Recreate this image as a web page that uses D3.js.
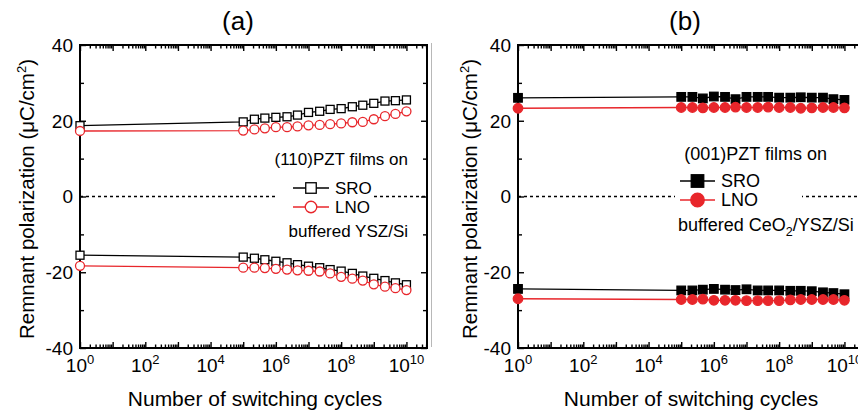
<!DOCTYPE html>
<html>
<head>
<meta charset="utf-8">
<script src="https://cdn.jsdelivr.net/npm/d3@7"></script>
<style>
  body { margin: 0; background: #fff; }
  svg { display: block; font-family: 'Liberation Sans', Arial, sans-serif; }
</style>
</head>
<body>
<svg id="chart" width="858" height="414"></svg>
<script>
// switching cycles (x) shared by every series
const cycles = [1, 1e5, 2.2e5, 4.6e5, 1e6, 2.2e6, 4.6e6, 1e7, 2.2e7, 4.6e7, 1e8, 2.2e8, 4.6e8, 1e9, 2.2e9, 4.6e9, 1e10]

// (a) (110)PZT films
const aSroPos = [18.7, 19.7, 20.4, 20.7, 20.9, 21.05, 21.5, 22.2, 22.5, 23.0, 23.2, 23.7, 24.1, 24.6, 25.2, 25.3, 25.5]
const aLnoPos = [17.3, 17.4, 17.7, 18.0, 18.3, 18.3, 18.5, 18.8, 18.9, 19.1, 19.3, 19.6, 19.7, 20.4, 21.2, 21.8, 22.5]
const aSroNeg = [-15.5, -16.0, -16.3, -16.7, -17.1, -17.5, -18.0, -18.4, -18.8, -19.3, -19.7, -20.3, -21.0, -21.6, -22.2, -22.8, -23.3]
const aLnoNeg = [-18.3, -18.8, -18.8, -18.9, -19.1, -19.3, -19.5, -19.6, -19.8, -20.3, -21.2, -21.7, -22.2, -23.2, -23.8, -24.2, -24.7]

// (b) (001)PZT films
const bSroPos = [26.05, 26.3, 26.3, 25.9, 26.4, 26.3, 25.7, 26.3, 26.3, 26.3, 26.1, 26.1, 26.2, 26.1, 26.1, 25.7, 25.5]
const bLnoPos = [23.3, 23.5, 23.5, 23.4, 23.5, 23.5, 23.6, 23.5, 23.5, 23.6, 23.5, 23.5, 23.3, 23.4, 23.5, 23.5, 23.4]
const bSroNeg = [-24.4, -24.8, -24.8, -24.6, -24.4, -24.6, -24.7, -24.5, -24.8, -24.8, -24.8, -24.9, -24.9, -25.0, -25.3, -25.5, -25.8]
const bLnoNeg = [-27.0, -27.2, -27.2, -27.1, -27.4, -27.4, -27.4, -27.5, -27.5, -27.5, -27.5, -27.3, -27.2, -27.2, -27.2, -27.2, -27.4]

const yMajor = [-40, -20, 0, 20, 40]
const yMinor = [-30, -10, 10, 30]
const xLabelExp = [0, 2, 4, 6, 8, 10]
const xDecades = [0, 1, 2, 3, 4, 5, 6, 7, 8, 9, 10]

const RED = '#e8262b'
const svg = d3.select('#chart')

// faint divider seen at the left of panel (b)
svg.append('line')
  .attr('x1', 431.5).attr('x2', 431.5).attr('y1', 43).attr('y2', 347)
  .attr('stroke', '#b8b8b8').attr('stroke-width', 1)

function drawPanel(p) {
  const g = svg.append('g')
  const x = d3.scaleLog().domain([1, Math.pow(10, 10.63)]).range([p.left, p.left + 347])
  const y = d3.scaleLinear().domain([-40, 40]).range([348, 45])

  const majorX = xDecades.map(d => Math.pow(10, d))
  const minorX = []
  xDecades.forEach(d => {
    for (let m = 2; m <= 9; m++) {
      const v = m * Math.pow(10, d)
      if (v <= x.domain()[1]) minorX.push(v)
    }
  })

  const tickAxis = (axis, values, size, transform) => {
    const a = g.append('g')
      .attr('transform', transform)
      .call(axis.tickValues(values).tickSize(size).tickSizeOuter(0).tickFormat(''))
    a.select('.domain').remove()
    a.selectAll('line').attr('stroke', '#000').attr('stroke-width', 1.4)
  }
  tickAxis(d3.axisBottom(x), majorX, -6, `translate(0,${y(-40)})`)
  tickAxis(d3.axisBottom(x), minorX, -3.5, `translate(0,${y(-40)})`)
  tickAxis(d3.axisTop(x), majorX, -6, `translate(0,${y(40)})`)
  tickAxis(d3.axisTop(x), minorX, -3.5, `translate(0,${y(40)})`)
  tickAxis(d3.axisLeft(y), yMajor, -6, `translate(${p.left},0)`)
  tickAxis(d3.axisLeft(y), yMinor, -4, `translate(${p.left},0)`)
  tickAxis(d3.axisRight(y), yMajor, -6, `translate(${x.range()[1]},0)`)
  tickAxis(d3.axisRight(y), yMinor, -4, `translate(${x.range()[1]},0)`)

  // zero reference line
  g.append('line')
    .attr('x1', p.left).attr('x2', x.range()[1])
    .attr('y1', y(0)).attr('y2', y(0))
    .attr('stroke', '#000').attr('stroke-width', 1.5)
    .attr('stroke-dasharray', '3,3')

  // legend background covering the dotted line
  g.append('rect')
    .attr('x', p.legGap[0]).attr('width', p.legGap[1] - p.legGap[0])
    .attr('y', y(0) - 3).attr('height', 6)
    .attr('fill', '#fff')

  // frame
  g.append('rect')
    .attr('x', p.left).attr('y', y(40))
    .attr('width', x.range()[1] - p.left).attr('height', y(-40) - y(40))
    .attr('fill', 'none').attr('stroke', '#000').attr('stroke-width', 2)

  // tick labels
  g.selectAll('.ylab').data(yMajor).join('text')
    .attr('x', p.left - 7).attr('y', d => y(d)).attr('dy', '0.36em')
    .attr('text-anchor', 'end').attr('font-size', 19)
    .text(d => String(d))

  g.selectAll('.xlab').data(xLabelExp).join('text')
    .attr('x', d => x(Math.pow(10, d))).attr('y', 372)
    .attr('text-anchor', 'middle').attr('font-size', 19)
    .each(function (d) {
      const t = d3.select(this)
      t.append('tspan').text('10')
      t.append('tspan').attr('dy', -8).attr('font-size', 13).text(d)
    })

  // axis titles
  g.append('text')
    .attr('x', p.xTitleX).attr('y', 406)
    .attr('text-anchor', 'middle').attr('font-size', 21)
    .text('Number of switching cycles')

  const yl = g.append('text')
    .attr('transform', `translate(${p.yTitleX},199) rotate(-90)`)
    .attr('text-anchor', 'middle').attr('font-size', 20.5)
  yl.append('tspan').text('Remnant polarization (\u03bcC/cm')
  yl.append('tspan').attr('dy', -8).attr('font-size', 13).text('2')
  yl.append('tspan').attr('dy', 8).text(')')

  g.append('text')
    .attr('x', p.titleX).attr('y', 30)
    .attr('text-anchor', 'middle').attr('font-size', 26)
    .text(p.title)

  // data
  const line = d3.line().x(d => x(d[0])).y(d => y(d[1]))
  p.series.forEach(s => {
    const pts = cycles.map((c, i) => [c, s.values[i]])
    g.append('path')
      .attr('d', line(pts))
      .attr('fill', 'none').attr('stroke', s.color).attr('stroke-width', 1.3)
    drawMarkers(g, pts.map(d => [x(d[0]), y(d[1])]), s.shape, s.color, p.filled, p.size)
  })

  // legend
  const L = p.legend
  g.append('text')
    .attr('x', L.headX).attr('y', L.headY)
    .attr('text-anchor', L.headAnchor).attr('font-size', L.fs)
    .text(L.head)
  L.items.forEach(it => {
    g.append('line')
      .attr('x1', L.lineX[0]).attr('x2', L.lineX[1])
      .attr('y1', it.y).attr('y2', it.y)
      .attr('stroke', it.color).attr('stroke-width', 1.5)
    drawMarkers(g, [[(L.lineX[0] + L.lineX[1]) / 2, it.y]], it.shape, it.color, p.filled, L.markSize)
    g.append('text')
      .attr('x', L.textX).attr('y', it.y + 6)
      .attr('font-size', L.fs)
      .text(it.label)
  })
  const foot = g.append('text')
    .attr('x', L.footX).attr('y', L.footY)
    .attr('text-anchor', L.footAnchor).attr('font-size', L.fs)
  L.foot.forEach(part => {
    const t = foot.append('tspan').text(part.t)
    if (part.sub) t.attr('dy', 5).attr('font-size', L.fs * 0.7)
    if (part.after) t.attr('dy', -5)
  })
}

function drawMarkers(g, pts, shape, color, filled, size) {
  if (shape === 'square') {
    g.selectAll(null).data(pts).join('rect')
      .attr('x', d => d[0] - size / 2).attr('y', d => d[1] - size / 2)
      .attr('width', size).attr('height', size)
      .attr('fill', filled ? color : '#fff')
      .attr('stroke', color).attr('stroke-width', 1.3)
  } else {
    g.selectAll(null).data(pts).join('circle')
      .attr('cx', d => d[0]).attr('cy', d => d[1])
      .attr('r', size / 2 + 0.5)
      .attr('fill', filled ? color : '#fff')
      .attr('stroke', color).attr('stroke-width', 1.3)
  }
}

drawPanel({
  left: 80, title: '(a)', titleX: 238, xTitleX: 255, yTitleX: 33.5,
  filled: false, size: 8,
  legGap: [278, 373],
  series: [
    { values: aSroPos, color: '#000', shape: 'square' },
    { values: aSroNeg, color: '#000', shape: 'square' },
    { values: aLnoPos, color: RED, shape: 'circle' },
    { values: aLnoNeg, color: RED, shape: 'circle' }
  ],
  legend: {
    fs: 17, head: '(110)PZT films on', headX: 408, headY: 165, headAnchor: 'end',
    lineX: [293, 329], textX: 335, markSize: 10.5,
    items: [
      { label: 'SRO', y: 188, color: '#000', shape: 'square' },
      { label: 'LNO', y: 207, color: RED, shape: 'circle' }
    ],
    foot: [{ t: 'buffered YSZ/Si' }], footX: 408, footY: 237, footAnchor: 'end'
  }
})

drawPanel({
  left: 518, title: '(b)', titleX: 685, xTitleX: 691, yTitleX: 477,
  filled: true, size: 8.5,
  legGap: [675, 802],
  series: [
    { values: bSroPos, color: '#000', shape: 'square' },
    { values: bSroNeg, color: '#000', shape: 'square' },
    { values: bLnoPos, color: RED, shape: 'circle' },
    { values: bLnoNeg, color: RED, shape: 'circle' }
  ],
  legend: {
    fs: 18, head: '(001)PZT films on', headX: 827, headY: 160, headAnchor: 'end',
    lineX: [680, 715], textX: 721, markSize: 12.5,
    items: [
      { label: 'SRO', y: 181, color: '#000', shape: 'square' },
      { label: 'LNO', y: 200, color: RED, shape: 'circle' }
    ],
    foot: [{ t: 'buffered CeO' }, { t: '2', sub: true }, { t: '/YSZ/Si', after: true }],
    footX: 678, footY: 231, footAnchor: 'start'
  }
})
</script>
</body>
</html>
